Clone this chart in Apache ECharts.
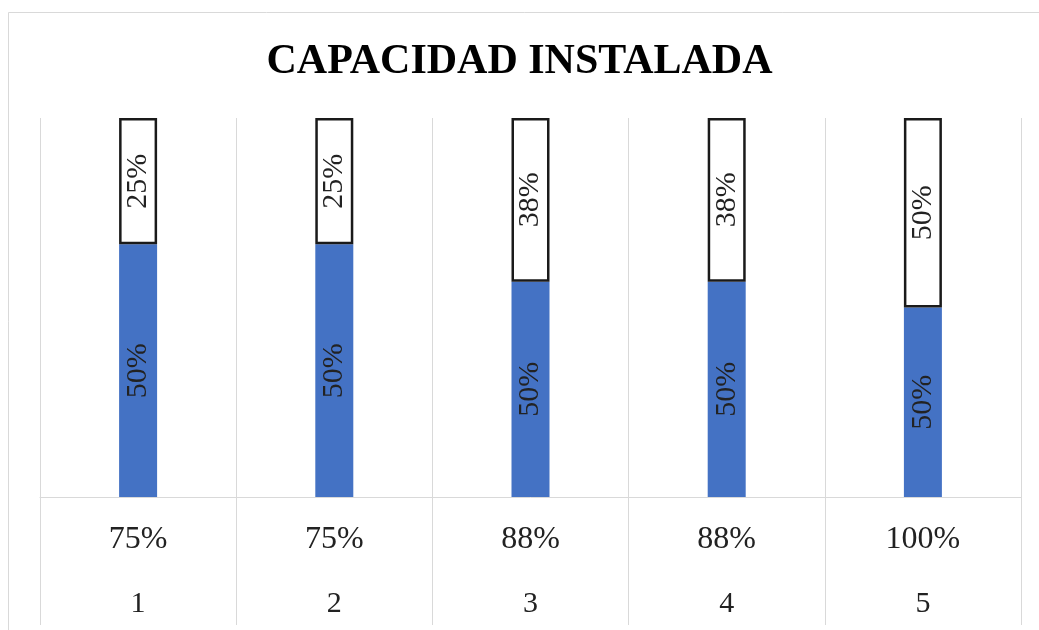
<!DOCTYPE html>
<html>
<head>
<meta charset="utf-8">
<script src="https://cdn.jsdelivr.net/npm/echarts@6/dist/echarts.min.js"></script>
<style>html,body{margin:0;padding:0;background:#fff}#c{width:1039px;height:630px}</style>
</head>
<body>
<div id="c"></div>
<script>
// Data
const categories = ["1", "2", "3", "4", "5"];
const totalLabels = ["75%", "75%", "88%", "88%", "100%"];
const baseValues = [50, 50, 50, 50, 50];   // blue series (%)
const extraValues = [25, 25, 38, 38, 50];  // white series (%)

// 100% stacked shares
const sums = baseValues.map((v, i) => v + extraValues[i]);
const baseShare = baseValues.map((v, i) => v / sums[i] * 100);
const extraShare = extraValues.map((v, i) => v / sums[i] * 100);

const serif = '"Liberation Serif","Times New Roman",serif';
const chart = echarts.init(document.getElementById('c'));
chart.setOption({
  animation: false,
  backgroundColor: '#fff',
  title: {
    text: 'CAPACIDAD INSTALADA',
    left: 'center',
    top: 36,
    textStyle: { fontFamily: serif, fontWeight: 'bold', fontSize: 42, color: '#000' }
  },
  graphic: [{
    type: 'rect', silent: true, z: -10,
    shape: { x: 8.5, y: 12.5, width: 1100, height: 700 },
    style: { fill: 'none', stroke: '#d9d9d9', lineWidth: 1 }
  }],
  grid: { left: 40, right: 18, top: 118, bottom: 133 },
  xAxis: {
    type: 'category',
    data: categories,
    boundaryGap: true,
    axisLine: { show: true, lineStyle: { color: '#d9d9d9', width: 1 } },
    axisTick: { show: true, length: 128, lineStyle: { color: '#d9d9d9', width: 1 } },
    splitLine: { show: true, lineStyle: { color: '#d9d9d9', width: 1 } },
    axisLabel: {
      margin: 10,
      formatter: (v, i) => '{a|' + totalLabels[i] + '}\n{b|' + v + '}',
      rich: {
        a: { fontFamily: serif, fontSize: 32, color: '#222', lineHeight: 65 },
        b: { fontFamily: serif, fontSize: 30, color: '#222', lineHeight: 65 }
      }
    }
  },
  yAxis: {
    type: 'value', min: 0, max: 100, show: false,
    splitLine: { show: false }
  },
  series: [
    {
      name: 'base', type: 'bar', stack: 'total', barWidth: 38,
      data: baseShare,
      itemStyle: { color: '#4472C4' },
      label: {
        show: true, position: 'inside', rotate: 90,
        fontFamily: serif, fontSize: 30, color: '#222',
        formatter: p => baseValues[p.dataIndex] + '%'
      }
    },
    {
      name: 'extra', type: 'bar', stack: 'total', barWidth: 38,
      data: extraShare,
      itemStyle: { color: '#fff', borderColor: '#1a1a1a', borderWidth: 2.5 },
      label: {
        show: true, position: 'inside', rotate: 90,
        fontFamily: serif, fontSize: 30, color: '#222',
        formatter: p => extraValues[p.dataIndex] + '%'
      }
    }
  ]
});
</script>
</body>
</html>
